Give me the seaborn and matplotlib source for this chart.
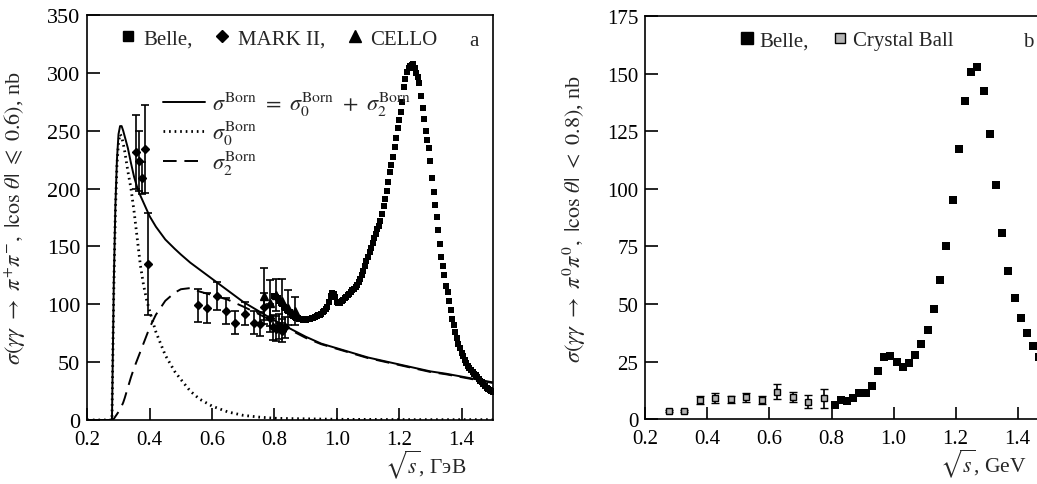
import numpy as np
import matplotlib
matplotlib.use('Agg')
import matplotlib.pyplot as plt
from matplotlib.lines import Line2D
import seaborn as sns

# --- panel a: gamma gamma -> pi+ pi-
belle_pm_x = np.linspace(0.80, 1.50, 141)  # 5 MeV bins
belle_pm_y = [
    107, 106, 105, 103, 101, 100, 98, 97, 95, 94,
    93, 91, 90, 89, 88.5, 88, 87.5, 87, 86.5, 86.5,
    86.5, 87, 87, 87.5, 88, 88.5, 89, 90, 90.5, 91,
    92, 93, 94, 95.5, 98, 102, 107, 110, 109, 106,
    102, 101, 101.5, 102.5, 104, 105, 106.5, 108, 109, 110.5,
    112, 113.5, 115, 117, 119, 122, 125, 129, 133, 137,
    141, 145, 149, 153, 157, 161, 165, 168, 172, 178,
    185, 191, 198, 206, 214, 220, 227, 236, 244, 252,
    259, 266, 275, 288, 295, 301, 304, 306, 307, 308,
    304, 300, 296, 291, 280, 270, 260, 250, 242, 235,
    224, 209, 197, 186, 175, 164, 152, 141, 133, 125,
    116, 111, 103, 95, 87, 82, 76, 71, 66, 62,
    58, 55, 52, 49, 47, 45, 43, 41.5, 40, 38.5,
    37, 35.5, 34, 32.5, 31, 29.5, 28, 27, 26, 25,
    24,
]

mark2_x = [0.355, 0.365, 0.375, 0.385, 0.395, 0.555, 0.585, 0.615, 0.645, 0.675,
           0.705, 0.735, 0.755, 0.765, 0.785, 0.795, 0.805, 0.815, 0.825, 0.835]
mark2_y = [232, 224, 209, 234, 135, 99, 97, 107, 94, 84,
           92, 84, 83, 98, 88, 80, 79, 81, 77, 80]
mark2_err = [32, 26, 14, 38, 44, 14, 13, 12, 11, 10,
             10, 10, 10, 12, 12, 11, 11, 11, 10, 9]

cello_x = [0.765, 0.785, 0.805, 0.825, 0.845, 0.865]
cello_y = [107, 101, 108, 103, 97, 94]
cello_err = [24, 20, 14, 19, 15, 12]

curve_x = [0.20, 0.279, 0.282, 0.285, 0.29, 0.295, 0.30, 0.305, 0.31, 0.315, 0.32,
           0.33, 0.34, 0.35, 0.36, 0.37, 0.38, 0.39, 0.40, 0.42, 0.45, 0.48,
           0.50, 0.53, 0.56, 0.60, 0.65, 0.70, 0.75, 0.80, 0.85, 0.90, 0.95,
           1.00, 1.05, 1.10, 1.15, 1.20, 1.25, 1.30, 1.35, 1.40, 1.45, 1.50]
sigma_tot = [0, 0, 60, 120, 185, 225, 247, 254, 254, 250, 245,
             235, 222, 210, 201, 194, 188, 182, 176, 167, 156, 148,
             143, 136, 130, 122, 112, 102, 94, 86, 79, 72, 66,
             62, 58, 54, 51, 48, 45, 42, 40, 37.5, 35, 32.5]
sigma_0 = [0, 0, 60, 115, 180, 220, 240, 247, 245, 239, 232,
           215, 200, 180, 157, 134, 117, 104, 94, 76, 56, 42,
           35, 25, 18, 12, 7, 4, 2.5, 1.5, 1.2, 1, 0.8,
           0.6, 0.5, 0.5, 0.4, 0.4, 0.3, 0.3, 0.3, 0.3, 0.3, 0.3]
sigma_2 = [0, 0, 0.5, 1, 3, 5, 7, 9, 12, 15, 19,
           28, 37, 45, 52, 59, 66, 73, 80, 91, 103, 110,
           113, 114, 111, 108, 104, 98, 91.5, 84.5, 78, 71, 65.5,
           61.5, 57.5, 53.5, 50.5, 47.5, 44.5, 41.5, 39.5, 37, 34.5, 32]

# --- panel b: gamma gamma -> pi0 pi0
belle_00_x = [0.81, 0.83, 0.85, 0.87, 0.89, 0.91, 0.93, 0.95, 0.97, 0.99,
              1.01, 1.03, 1.05, 1.07, 1.09, 1.11, 1.13, 1.15, 1.17, 1.19,
              1.21, 1.23, 1.25, 1.27, 1.29, 1.31, 1.33, 1.35, 1.37, 1.39,
              1.41, 1.43, 1.45, 1.47, 1.49]
belle_00_y = [6.2, 8.3, 7.7, 9.0, 11.3, 11.4, 14.5, 20.8, 26.9, 27.6,
              24.7, 22.5, 24.2, 27.9, 32.7, 38.6, 47.9, 60.4, 75.2, 95.0,
              117.3, 138.4, 151.0, 153.2, 142.4, 123.9, 101.8, 80.9, 64.5, 52.6,
              43.9, 37.5, 31.9, 27.0, 23.0]

cb_x = [0.275, 0.325, 0.375, 0.425, 0.475, 0.525, 0.575, 0.625, 0.675, 0.725, 0.775]
cb_y = [3.6, 3.6, 8.3, 9.1, 8.6, 9.4, 8.4, 11.9, 9.4, 7.6, 9.0]
cb_err = [0.5, 0.5, 1.8, 2.0, 1.6, 1.9, 1.8, 3.3, 2.2, 3.0, 4.2]

sns.set_style('ticks')
plt.rcParams['font.family'] = ['Liberation Serif', 'DejaVu Serif']
plt.rcParams['mathtext.fontset'] = 'stix'
plt.rcParams['xtick.direction'] = 'in'
plt.rcParams['ytick.direction'] = 'in'
plt.rcParams['axes.edgecolor'] = 'black'
plt.rcParams['axes.linewidth'] = 1.2

FS = 15
LFS = 16
fig = plt.figure(figsize=(10.37, 4.85), dpi=100)
ax1 = fig.add_axes([0.0842, 0.132, 0.391, 0.835])
ax2 = fig.add_axes([0.6223, 0.134, 0.389, 0.830])

# panel a
sns.lineplot(x=curve_x, y=sigma_tot, ax=ax1, color='black', lw=1.4, sort=False)
sns.lineplot(x=curve_x, y=sigma_0, ax=ax1, color='black', lw=2.0, sort=False,
             linestyle=(0, (0.6, 1.4)))
sns.lineplot(x=curve_x, y=sigma_2, ax=ax1, color='black', lw=1.4, sort=False,
             linestyle=(0, (7, 4)))
ax1.errorbar(mark2_x, mark2_y, yerr=mark2_err, fmt='D', color='black', ms=4.5,
             capsize=3, elinewidth=1.2, capthick=1.2)
ax1.errorbar(cello_x, cello_y, yerr=cello_err, fmt='^', color='black', ms=6,
             capsize=3, elinewidth=1.2, capthick=1.2)
sns.scatterplot(x=belle_pm_x, y=belle_pm_y, ax=ax1, marker='s', color='black',
                s=18, linewidth=0)

ax1.set_xlim(0.2, 1.5)
ax1.set_ylim(0, 350)
ax1.set_xticks([0.2, 0.4, 0.6, 0.8, 1.0, 1.2, 1.4])
ax1.set_yticks(range(0, 351, 50))
ax1.set_ylabel(r'$\sigma(\gamma\gamma\ \rightarrow\ \pi^{+}\pi^{-},\ |\cos\,\theta|\ \leqslant\ 0.6)$, nb',
               fontsize=LFS)
ax1.set_xlabel(r'$\sqrt{s}$, ГэВ', fontsize=15.5, loc='right')
ax1.yaxis.set_label_coords(-0.146, 0.5)
ax1.xaxis.set_label_coords(0.935, -0.068)
ax1.text(0.953, 0.938, 'a', transform=ax1.transAxes, fontsize=FS, ha='center', va='center')

marks = [Line2D([], [], ls='none', marker='s', color='black', ms=7),
         Line2D([], [], ls='none', marker='D', color='black', ms=6),
         Line2D([], [], ls='none', marker='^', color='black', ms=8)]
leg1 = ax1.legend(marks, ['Belle,', 'MARK II,', 'CELLO'], ncol=3, loc='upper left',
                  bbox_to_anchor=(0.08, 0.965), frameon=False, fontsize=FS,
                  handlelength=0.8, handletextpad=0.35, columnspacing=1.0,
                  borderpad=0, borderaxespad=0)
ax1.add_artist(leg1)
curves = [Line2D([], [], color='black', lw=1.4),
          Line2D([], [], color='black', lw=2.0, linestyle=(0, (0.6, 1.4))),
          Line2D([], [], color='black', lw=1.4, linestyle=(0, (7, 4)))]
ax1.legend(curves, [r'$\sigma^{\rm Born}\ =\ \sigma_0^{\rm Born}\ +\ \sigma_2^{\rm Born}$',
                    r'$\sigma_0^{\rm Born}$', r'$\sigma_2^{\rm Born}$'],
           loc='upper left', bbox_to_anchor=(0.187, 0.815), frameon=False, fontsize=LFS,
           handlelength=1.9, handletextpad=0.3, labelspacing=0.05,
           borderpad=0, borderaxespad=0)

# panel b
ax2.errorbar(cb_x, cb_y, yerr=cb_err, fmt='s', mfc='#b4b4b4', mec='black', ecolor='black',
             ms=5, mew=1.0, capsize=3, elinewidth=1.2, capthick=1.2)
sns.scatterplot(x=belle_00_x, y=belle_00_y, ax=ax2, marker='s', color='black',
                s=30, linewidth=0)
ax2.set_xlim(0.2, 1.5)
ax2.set_ylim(0, 175)
ax2.set_xticks([0.2, 0.4, 0.6, 0.8, 1.0, 1.2, 1.4])
ax2.set_yticks(range(0, 176, 25))
ax2.set_ylabel(r'$\sigma(\gamma\gamma\ \rightarrow\ \pi^{0}\pi^{0},\ |\cos\,\theta|\ <\ 0.8)$, nb',
               fontsize=LFS)
ax2.set_xlabel(r'$\sqrt{s}$, GeV', fontsize=15.5, loc='right')
ax2.yaxis.set_label_coords(-0.142, 0.5)
ax2.xaxis.set_label_coords(0.946, -0.068)
ax2.text(0.95, 0.938, 'b', transform=ax2.transAxes, fontsize=FS, ha='center', va='center')
marks2 = [Line2D([], [], ls='none', marker='s', color='black', ms=8),
          Line2D([], [], ls='none', marker='s', mfc='#b4b4b4', mec='black', mew=1.0, ms=7)]
ax2.legend(marks2, ['Belle,', 'Crystal Ball'], ncol=2, loc='upper left',
           bbox_to_anchor=(0.231, 0.965), frameon=False, fontsize=FS,
           handlelength=0.8, handletextpad=0.2, columnspacing=1.1,
           borderpad=0, borderaxespad=0)

for ax in (ax1, ax2):
    ax.set_xticklabels(['0.2', '0.4', '0.6', '0.8', '1.0', '1.2', '1.4'])
    ax.tick_params(axis='both', which='major', labelsize=FS, length=9, width=1.2,
                   colors='black', direction='in')
    ax.tick_params(axis='x', pad=7)
    ax.tick_params(axis='y', pad=5)
    for sp in ax.spines.values():
        sp.set_visible(True)
        sp.set_color('black')
ax1.tick_params(axis='y', labelsize=16)

fig.savefig('out.png', dpi=100)
